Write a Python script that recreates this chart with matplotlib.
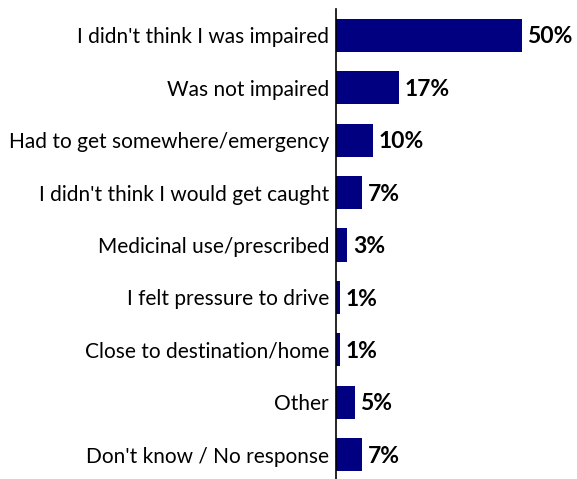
import matplotlib
matplotlib.use("Agg")
import matplotlib.pyplot as plt

reasons = [
    "I didn't think I was impaired",
    "Was not impaired",
    "Had to get somewhere/emergency",
    "I didn't think I would get caught",
    "Medicinal use/prescribed",
    "I felt pressure to drive",
    "Close to destination/home",
    "Other",
    "Don't know / No response",
]
shares = [50, 17, 10, 7, 3, 1, 1, 5, 7]

plt.rcParams["font.family"] = ["Lato", "DejaVu Sans"]

fig = plt.figure(figsize=(5.77, 4.79), dpi=100)
ax = fig.add_axes([336 / 577, -0.004, 1 - 336 / 577, 0.985])

pos = list(range(len(reasons)))
ax.barh(pos, shares, height=0.63, color="#000080")
for p, v in zip(pos, shares):
    ax.text(v + 1.5, p + 0.03, f"{v}%", va="center", ha="left",
            fontsize=16.5, fontweight="bold", color="black")

ax.set_ylim(len(reasons) - 0.5, -0.5)
ax.set_xlim(0, 64.8)
ax.set_yticks(pos)
ax.set_yticklabels(reasons, fontsize=15)
ax.tick_params(axis="y", length=0, pad=5)
ax.set_xticks([])
for side in ["top", "right", "bottom"]:
    ax.spines[side].set_visible(False)
ax.spines["left"].set_linewidth(1.2)

fig.savefig("out.png", dpi=100)
